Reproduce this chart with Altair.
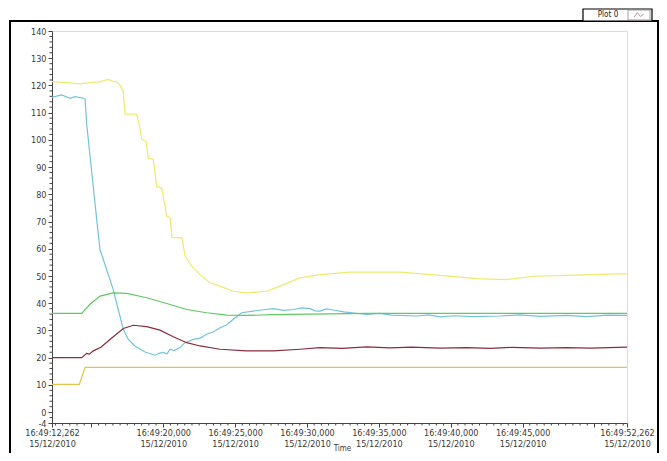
import altair as alt
import pandas as pd
import numpy as np

T0 = 12.262  # seconds after 16:49:00

# offsets (s from 16:49:12,262) and values
yellow_dt = [0, 1.0, 1.95, 2.85, 3.3, 3.9, 4.2, 4.5, 4.73, 4.96, 5.08, 5.89, 6.12, 6.24, 6.54, 6.7, 7.05,
             7.28, 7.63, 7.98, 8.21, 8.35, 9.04, 9.25, 9.6, 9.83, 10.3, 10.99, 11.69, 12.61, 13.54, 14.94,
             15.86, 17.25, 18.64, 20.73, 24.21, 26.99, 29.54, 31.63, 33.46, 35.81, 39.28, 40.0]
yellow_v = [121.4, 121.0, 120.6, 121.1, 121.3, 122.2, 121.6, 121.4, 120.1, 117.7, 109.5, 109.5, 104.3, 100.2,
            99.4, 93.3, 92.9, 82.9, 82.3, 71.9, 71.5, 64.2, 64.0, 57.5, 54.5, 53.0, 50.5, 47.5, 46.3, 44.4,
            43.8, 44.4, 46.3, 49.3, 50.5, 51.4, 51.4, 50.2, 49.0, 48.7, 49.9, 50.2, 50.8, 50.8]

cyan_dt = [0, 0.67, 1.25, 1.6, 2.18, 2.3, 2.41, 3.11, 3.34, 3.8, 4.26, 4.61, 4.96, 5.31, 5.77, 6.47, 7.17,
           7.45, 7.74, 8.0, 8.21, 8.5, 8.9, 9.25, 9.83, 10.3, 10.76, 11.2, 11.69, 12.15, 12.61, 13.2, 14.0,
           14.7, 15.39, 16.1, 16.79, 17.4, 17.95, 18.3, 18.64, 19.1, 19.55, 20.3, 21.0, 21.89, 22.8, 23.6,
           25.37, 26.2, 26.99, 28.0, 29.2, 31.17, 32.5, 34.0, 35.81, 37.2, 38.6, 40.0]
cyan_v = [115.6, 116.5, 115.3, 115.9, 115.3, 115.0, 106.0, 70.7, 59.7, 52.4, 45.0, 37.7, 30.4, 26.7, 24.3,
          22.1, 20.9, 21.6, 21.9, 21.4, 23.1, 22.6, 23.7, 25.5, 26.7, 27.2, 28.6, 29.4, 31.0, 32.0, 34.1,
          36.5, 37.1, 37.6, 38.0, 37.4, 37.7, 38.3, 38.0, 37.2, 37.1, 37.9, 37.5, 36.8, 36.4, 35.9, 36.3,
          35.6, 35.3, 35.7, 35.0, 35.4, 35.1, 35.3, 35.7, 35.2, 35.5, 35.1, 35.6, 35.5]

green_dt = [0, 2.07, 2.64, 3.34, 4.26, 5.2, 6.59, 7.98, 9.37, 10.76, 12.15, 13.54, 15.39, 17.95, 21.89, 40.0]
green_v = [36.3, 36.3, 39.6, 42.6, 43.8, 43.6, 42.0, 39.9, 37.7, 36.5, 35.6, 35.5, 35.8, 36.0, 36.3, 36.3]

red_dt = [0, 2.07, 2.41, 2.6, 2.87, 3.4, 4.03, 4.96, 5.66, 6.59, 7.51, 8.44, 9.37, 10.3, 11.69, 13.54,
          15.39, 17.25, 18.64, 20.2, 21.89, 23.5, 25.0, 27.0, 28.85, 30.5, 32.0, 34.0, 35.81, 37.5, 40.0]
red_v = [20.0, 20.0, 21.6, 21.3, 22.5, 23.8, 26.7, 30.7, 31.9, 31.4, 30.1, 27.7, 25.5, 24.3, 23.1, 22.5,
         22.5, 23.1, 23.7, 23.4, 24.0, 23.6, 23.9, 23.5, 23.7, 23.4, 23.8, 23.5, 23.7, 23.5, 23.9]

gold_dt = [0, 1.9, 2.3, 40.0]
gold_v = [10.2, 10.2, 16.4, 16.4]

series_names = ["s_yellow", "s_cyan", "s_green", "s_red", "s_gold"]
series_colors = ["#eeea6e", "#72c4dc", "#62c862", "#8a2c3c", "#e2c44c"]

rows = []
for name, dts, vs in zip(series_names,
                         [yellow_dt, cyan_dt, green_dt, red_dt, gold_dt],
                         [yellow_v, cyan_v, green_v, red_v, gold_v]):
    for i, (d, v) in enumerate(zip(dts, vs)):
        rows.append({"series": name, "t": T0 + d, "v": v, "o": i})
df = pd.DataFrame(rows)

x_major = [12.262, 15, 20, 25, 30, 35, 40, 45, 50, 52.262]
y_major = [-4, 0, 10, 20, 30, 40, 50, 60, 70, 80, 90, 100, 110, 120, 130, 140]
x_minor = pd.DataFrame({"t": [v for v in np.arange(12.5, 52.2, 0.5) if abs(v % 5) > 1e-9]})
y_minor = pd.DataFrame({"v": [v for v in range(-2, 140, 2) if v % 10 != 0]})

W, H = 575, 392
xdom = [12.262, 52.262]
ydom = [-4, 140]
FONT = "Tahoma, 'DejaVu Sans Condensed', 'Liberation Sans', sans-serif"

xscale = alt.Scale(domain=xdom, nice=False, zero=False)
yscale = alt.Scale(domain=ydom, nice=False, zero=False)

label_expr = ("(datum.value == 15 || datum.value == 50) ? '' : "
              "['16:49:' + replace(format(datum.value, '06.3f'), '.', ','), '15/12/2010']")
ylabel_expr = "datum.value < 0 ? '-' + abs(datum.value) : '' + datum.value"

xaxis = alt.Axis(values=x_major, labelExpr=label_expr, grid=False, tickSize=4,
                 labelPadding=1, labelFontSize=9, labelLineHeight=11, labelOverlap=False,
                 labelFlush=False, labelBound=False, labelColor="#3a3a3a", labelFont=FONT,
                 domainColor="#444", tickColor="#444", titleFont=FONT, titleFontSize=8,
                 titleFontWeight="normal", titleColor="#3a3a3a", titleX=290, titleY=27,
                 titleBaseline="alphabetic")
yaxis = alt.Axis(values=y_major, labelExpr=ylabel_expr, grid=False, tickSize=4, labelPadding=2,
                 labelFontSize=9, labelColor="#3a3a3a", labelFont=FONT, domainColor="#444",
                 tickColor="#444", labelOverlap=False)

lines = alt.Chart(df).mark_line(strokeWidth=1.2).encode(
    x=alt.X("t:Q", scale=xscale, title="Time", axis=xaxis),
    y=alt.Y("v:Q", scale=yscale, title=None, axis=yaxis),
    color=alt.Color("series:N", scale=alt.Scale(domain=series_names, range=series_colors), legend=None),
    order="o:Q",
)

xminor_rules = alt.Chart(x_minor).mark_rule(color="#444", strokeWidth=1).encode(
    x=alt.X("t:Q", scale=xscale, title="Time", axis=xaxis),
    y=alt.value(H), y2=alt.value(H + 2.5),
)
yminor_rules = alt.Chart(y_minor).mark_rule(color="#444", strokeWidth=1).encode(
    y=alt.Y("v:Q", scale=yscale, title=None, axis=yaxis),
    x=alt.value(0), x2=alt.value(-2.5),
)

one = pd.DataFrame({"label": ["Plot 0"]})
frame = alt.Chart(one).mark_rect(fill="white", fillOpacity=0, stroke="black", strokeWidth=2).encode(
    x=alt.value(-42), x2=alt.value(606), y=alt.value(-10), y2=alt.value(460),
)
leg_box = alt.Chart(one).mark_rect(fill="white", stroke="black", strokeWidth=1.2).encode(
    x=alt.value(531), x2=alt.value(600), y=alt.value(-22), y2=alt.value(-10),
)
leg_icon = alt.Chart(one).mark_rect(fill="white", stroke="#888", strokeWidth=0.8).encode(
    x=alt.value(576), x2=alt.value(598), y=alt.value(-21), y2=alt.value(-11),
)
leg_glyph = alt.Chart(one).mark_point(
    shape="M-1,0.4L-0.35,-0.5L0.3,0.3L1,-0.2", filled=False, stroke="#b06070", strokeWidth=1, size=90
).encode(x=alt.value(587), y=alt.value(-16))
leg_text = alt.Chart(one).mark_text(font=FONT, fontSize=8, color="#222", align="center",
                                    baseline="middle").encode(
    x=alt.value(556), y=alt.value(-16), text="label:N",
)

chart = alt.layer(
    lines, xminor_rules, yminor_rules, frame, leg_box, leg_icon, leg_glyph, leg_text
).properties(
    width=W, height=H,
    autosize=alt.AutoSizeParams(type="none"),
    padding={"left": 44, "top": 23, "right": 32, "bottom": 30},
).configure_view(stroke="#8a8a8a", strokeWidth=1).configure(background="white")

chart.save("out.html", embed_options={"renderer": "svg", "actions": False})
